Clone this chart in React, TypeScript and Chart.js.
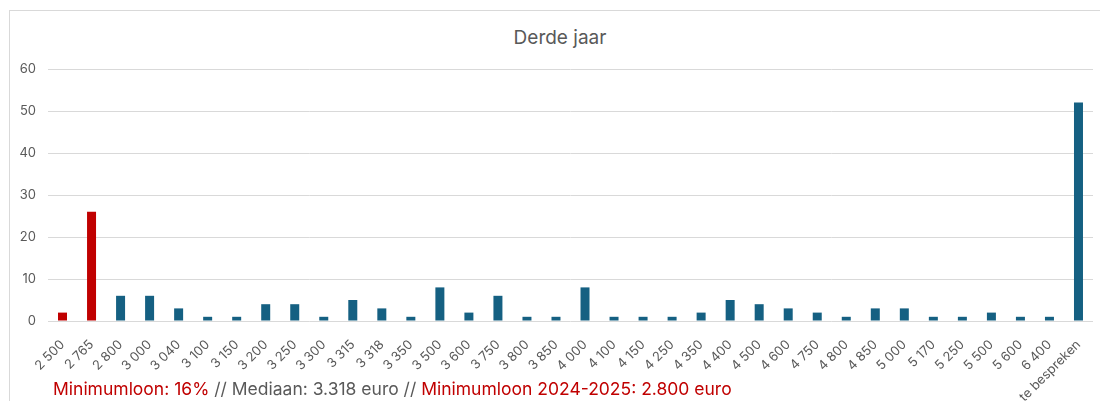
import React, { useEffect, useRef } from "react";
import { Chart, registerables } from "chart.js";

Chart.register(...registerables);

const categories = [
  "2 500", "2 765", "2 800", "3 000", "3 040", "3 100", "3 150", "3 200", "3 250", "3 300",
  "3 315", "3 318", "3 350", "3 500", "3 600", "3 750", "3 800", "3 850", "4 000", "4 100",
  "4 150", "4 250", "4 350", "4 400", "4 500", "4 600", "4 750", "4 800", "4 850", "5 000",
  "5 170", "5 250", "5 500", "5 600", "6 400", "te bespreken",
];
const counts = [
  2, 26, 6, 6, 3, 1, 1, 4, 4, 1,
  5, 3, 1, 8, 2, 6, 1, 1, 8, 1,
  1, 1, 2, 5, 4, 3, 2, 1, 3, 3,
  1, 1, 2, 1, 1, 52,
];
const belowMinimumCount = 2; // first categories under the minimum wage
const yTicks = [0, 10, 20, 30, 40, 50, 60];
const title = "Derde jaar";

const RED = "#C00000";
const BLUE = "#156082";
const GRAY = "#595959";
const FONT = "Inter, 'Noto Sans', sans-serif";

export default function App() {
  const canvasRef = useRef<HTMLCanvasElement>(null);

  useEffect(() => {
    if (!canvasRef.current) return;
    const colors = counts.map((_, i) => (i < belowMinimumCount ? RED : BLUE));
    const chart = new Chart(canvasRef.current, {
      type: "bar",
      data: {
        labels: categories,
        datasets: [
          {
            data: counts,
            backgroundColor: colors,
            borderWidth: 0,
            barPercentage: 0.31,
            categoryPercentage: 1,
          },
        ],
      },
      options: {
        animation: false,
        responsive: true,
        maintainAspectRatio: false,
        layout: { padding: { left: 0, right: 7, top: 58, bottom: 0 } },
        plugins: {
          legend: { display: false },
          tooltip: { enabled: false },
          title: { display: false },
        },
        scales: {
          x: {
            afterFit: (scale: any) => {
              scale.height = 80;
            },
            grid: { display: false },
            border: { display: false },
            ticks: {
              color: GRAY,
              font: { family: FONT, size: 13 },
              maxRotation: 45,
              minRotation: 45,
              autoSkip: false,
              padding: 8,
            },
          },
          y: {
            min: 0,
            max: 60,
            afterBuildTicks: (scale: any) => {
              scale.ticks = yTicks.map((v) => ({ value: v }));
            },
            afterFit: (scale: any) => {
              scale.width = 38;
            },
            grid: { color: "#D9D9D9", lineWidth: 1, drawTicks: false },
            border: { display: false },
            ticks: {
              color: GRAY,
              font: { family: FONT, size: 13 },
              padding: 12,
            },
          },
        },
      },
    });
    return () => chart.destroy();
  }, []);

  return (
    <div
      style={{
        position: "absolute",
        left: 9,
        top: 10,
        width: 1091,
        height: 391,
        borderTop: "1px solid #D9D9D9",
        borderLeft: "1px solid #D9D9D9",
        boxSizing: "border-box",
        background: "#fff",
      }}
    >
      <div
        style={{
          position: "absolute",
          left: 0,
          top: 17,
          width: 1100,
          textAlign: "center",
          fontFamily: FONT,
          fontSize: 19,
          lineHeight: "19px",
          color: GRAY,
        }}
      >
        {title}
      </div>
      <div style={{ position: "absolute", left: 0, top: 0, width: 1090, height: 390 }}>
        <canvas ref={canvasRef} />
      </div>
      <div
        style={{
          position: "absolute",
          left: 43,
          top: 368,
          fontFamily: FONT,
          fontSize: 17.5,
          lineHeight: "20px",
          whiteSpace: "nowrap",
          color: GRAY,
        }}
      >
        <span style={{ color: RED }}>Minimumloon: 16%</span>
        <span> // Mediaan: 3.318 euro // </span>
        <span style={{ color: RED }}>Minimumloon 2024-2025: 2.800 euro</span>
      </div>
    </div>
  );
}
